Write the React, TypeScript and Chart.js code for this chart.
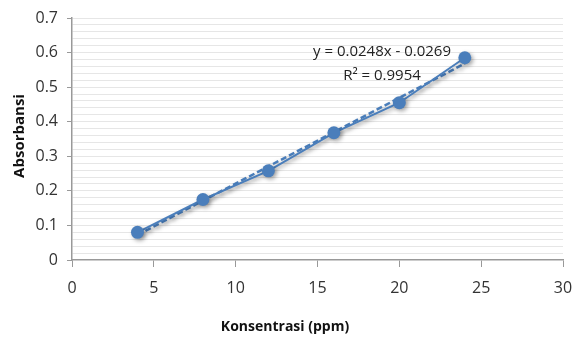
import React, { useEffect, useRef } from "react";
import { Chart, registerables } from "chart.js";

Chart.register(...registerables);

const concentrations = [4, 8, 12, 16, 20, 24];
const absorbance = [0.08, 0.175, 0.258, 0.368, 0.455, 0.585];
const trendX = [4, 24];
const trendY = [0.0723, 0.5683];
const xTicks = [0, 5, 10, 15, 20, 25, 30];
const yMajorTicks = [0, 0.1, 0.2, 0.3, 0.4, 0.5, 0.6, 0.7];
const equationLines = ["y = 0.0248x - 0.0269", "R² = 0.9954"];
const xTitle = "Konsentrasi (ppm)";
const yTitle = "Absorbansi";

const BLUE = "#4a7ebb";
const FONT = "'Open Sans', 'Liberation Sans', sans-serif";

const isMajor = (v: number) => yMajorTicks.some((t) => Math.abs(t - v) < 1e-6);

const shadowPlugin = {
  id: "shadowPlugin",
  beforeDatasetDraw(chart: any) {
    const ctx = chart.ctx;
    ctx.save();
    ctx.shadowColor = "rgba(0,0,0,0.35)";
    ctx.shadowBlur = 4;
    ctx.shadowOffsetX = 2;
    ctx.shadowOffsetY = 2;
  },
  afterDatasetDraw(chart: any) {
    chart.ctx.restore();
  },
};

const textPlugin = {
  id: "textPlugin",
  afterDraw(chart: any) {
    const ctx = chart.ctx;
    ctx.save();
    ctx.fillStyle = "#222";
    ctx.font = `15px ${FONT}`;
    ctx.textAlign = "center";
    ctx.textBaseline = "middle";
    ctx.fillText(equationLines[0], 382, 52);
    ctx.fillText(equationLines[1], 382, 76);
    ctx.fillStyle = "#111";
    ctx.font = `bold 14px ${FONT}`;
    ctx.fillText(xTitle, 285, 327);
    ctx.translate(20, 136);
    ctx.rotate(-Math.PI / 2);
    ctx.font = `bold 15px ${FONT}`;
    ctx.fillText(yTitle, 0, 0);
    ctx.restore();
  },
};

export default function App() {
  const ref = useRef<HTMLCanvasElement>(null);
  useEffect(() => {
    document.body.style.margin = "0";
    const chart = new Chart(ref.current!, {
      type: "scatter",
      data: {
        datasets: [
          {
            label: "Trend",
            data: trendX.map((x, i) => ({ x, y: trendY[i] })),
            showLine: true,
            borderColor: BLUE,
            borderWidth: 2.5,
            borderDash: [6, 3],
            pointRadius: 0,
            order: 2,
          },
          {
            label: "Absorbansi",
            data: concentrations.map((x, i) => ({ x, y: absorbance[i] })),
            showLine: true,
            borderColor: BLUE,
            backgroundColor: BLUE,
            borderWidth: 2,
            pointRadius: 6.5,
            pointBorderWidth: 0,
            order: 1,
          },
        ],
      },
      options: {
        animation: false,
        responsive: false,
        layout: { padding: { left: 0, right: 18, top: 18, bottom: 0 } },
        plugins: { legend: { display: false }, tooltip: { enabled: false } },
        scales: {
          x: {
            type: "linear",
            min: 0,
            max: 30,
            afterBuildTicks: (s: any) => {
              s.ticks = xTicks.map((v) => ({ value: v }));
            },
            afterFit: (s: any) => {
              s.height = 82;
              s.paddingLeft = 0;
              s.paddingRight = 0;
            },
            grid: {
              drawOnChartArea: false,
              drawTicks: true,
              tickLength: 7,
              color: "#999",
            },
            border: { color: "#999", width: 1.5 },
            ticks: {
              color: "#333",
              font: { family: FONT, size: 16 },
              padding: 12,
              maxRotation: 0,
            },
          },
          y: {
            type: "linear",
            min: 0,
            max: 0.7,
            ticks: {
              stepSize: 0.02,
              autoSkip: false,
              color: "#333",
              font: { family: FONT, size: 16 },
              padding: 9,
              callback: (v: any) => (isMajor(Number(v)) ? String(Math.round(Number(v) * 10) / 10) : ""),
            },
            afterFit: (s: any) => {
              s.width = 72;
              s.paddingTop = 0;
              s.paddingBottom = 0;
            },
            grid: {
              color: (c: any) => (c.tick && Math.abs(c.tick.value) < 1e-6 ? "rgba(0,0,0,0)" : "#e6e6e6"),
              tickColor: (c: any) => (c.tick && isMajor(c.tick.value) ? "#999" : "rgba(0,0,0,0)"),
              tickLength: 5,
              lineWidth: 1,
            },
            border: { color: "#999", width: 1.5 },
          },
        },
      },
      plugins: [shadowPlugin, textPlugin],
    } as any);
    return () => chart.destroy();
  }, []);
  return <canvas ref={ref} width={581} height={342} style={{ display: "block" }} />;
}
